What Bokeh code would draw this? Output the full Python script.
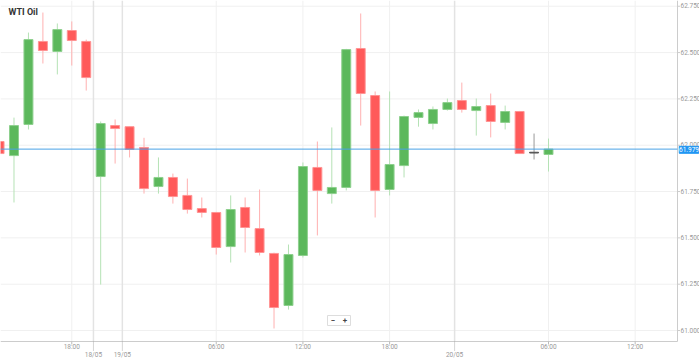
from bokeh.plotting import figure
from bokeh.models import Range1d, ColumnDataSource
from bokeh.core.properties import value
from bokeh.embed import file_html
from bokeh.resources import INLINE

# ---- data (hourly candles, index-based x) ----
opens = [62.020, 61.944, 62.112, 62.560, 62.506, 62.619, 62.560, 61.831, 62.106, 62.100,
         61.988, 61.777, 61.826, 61.729, 61.658, 61.637, 61.453, 61.664, 61.550, 61.416,
         61.135, 61.405, 61.880, 61.739, 61.772, 62.522, 62.268, 61.761, 61.890, 62.150,
         62.117, 62.193, 62.241, 62.187, 62.214, 62.123, 62.182, 61.960, 61.950]
highs = [62.030, 62.149, 62.608, 62.716, 62.657, 62.668, 62.570, 62.128, 62.139, 62.100,
         62.040, 61.934, 61.847, 61.820, 61.718, 61.640, 61.729, 61.718, 61.761, 61.420,
         61.464, 61.907, 62.020, 62.096, 62.520, 62.711, 62.290, 62.290, 62.160, 62.193,
         62.209, 62.252, 62.338, 62.252, 62.279, 62.214, 62.185, 62.063, 62.036]
lows = [61.945, 61.691, 62.085, 62.441, 62.382, 62.430, 62.295, 61.248, 61.901, 61.934,
        61.739, 61.739, 61.685, 61.631, 61.610, 61.410, 61.367, 61.421, 61.405, 61.011,
        61.113, 61.394, 61.513, 61.685, 61.756, 62.106, 61.610, 61.729, 61.826, 62.100,
        62.085, 62.187, 62.176, 62.052, 62.042, 62.085, 61.955, 61.923, 61.858]
closes = [61.955, 62.106, 62.570, 62.511, 62.624, 62.565, 62.365, 62.117, 62.090, 61.977,
          61.766, 61.826, 61.723, 61.653, 61.637, 61.448, 61.653, 61.556, 61.421, 61.124,
          61.410, 61.885, 61.756, 61.772, 62.516, 62.279, 61.756, 61.896, 62.155, 62.176,
          62.193, 62.230, 62.193, 62.209, 62.128, 62.182, 61.955, 61.960, 61.979]

time_ticks = [5, 15, 21, 27, 38, 44]
time_labels = ["18:00", "06:00", "12:00", "18:00", "06:00", "12:00"]
date_ticks = [6.5, 8.5, 31.5]
date_labels = ["18/05", "19/05", "20/05"]
price_ticks = [61.0, 61.25, 61.5, 61.75, 62.0, 62.25, 62.5, 62.75]
last_price = 61.979
title_text = "WTI Oil"

# ---- pixel geometry (canvas 699x358) ----
W, H = 699, 358
PX_X = 14.446          # pixels per candle
PX_Y = 185.3           # pixels per 1.0 price
X0 = 0.0655            # k at left canvas edge
Y_TOP = 62.781         # price at top canvas edge
XL, XR = X0, X0 + 677 / PX_X          # plot area (right axis line at px 677)
YB = Y_TOP - 341 / PX_Y               # bottom axis line at px 341
dx = lambda px: px / PX_X
dy = lambda px: px / PX_Y

GREEN, GREEN_L, GREEN_W = "#5cb85c", "#8ed08e", "#b5e2b5"
RED, RED_L, RED_W = "#ff5a5a", "#ff9494", "#ffb0b0"
GRAY, GRAY_W = "#555555", "#999999"
AX = "#cccccc"
TXT = "#999999"
FONT = value("Roboto")

xs = list(range(len(opens)))
body_fill, body_line, wick_col, tops, bots = [], [], [], [], []
for o, c in zip(opens, closes):
    if abs(c - o) < 0.001:
        body_fill.append(GRAY); body_line.append(GRAY); wick_col.append(GRAY_W)
    elif c > o:
        body_fill.append(GREEN); body_line.append(GREEN_L); wick_col.append(GREEN_W)
    else:
        body_fill.append(RED); body_line.append(RED_L); wick_col.append(RED_W)
    hi, lo = max(o, c), min(o, c)
    if hi - lo < 0.004:
        hi, lo = hi + 0.002, lo - 0.002
    tops.append(hi); bots.append(lo)

src = ColumnDataSource(dict(x=xs, o=opens, h=highs, l=lows, c=closes,
                            top=tops, bottom=bots, fill=body_fill,
                            line=body_line, wick=wick_col))

p = figure(width=W, height=H, output_backend="svg", toolbar_location=None,
           x_range=Range1d(X0, X0 + W / PX_X), y_range=Range1d(Y_TOP - H / PX_Y, Y_TOP),
           x_axis_location=None, y_axis_location=None,
           min_border=0, min_border_left=0, min_border_top=0,
           min_border_right=0, min_border_bottom=0)
p.outline_line_color = None
p.grid.visible = False
p.background_fill_color = "white"
p.border_fill_color = "white"

# horizontal grid
p.segment(x0=[XL] * len(price_ticks), x1=[XR] * len(price_ticks),
          y0=price_ticks, y1=price_ticks, line_color="#f0f0f0", line_width=1)
# vertical grid (times faint, dates stronger)
p.segment(x0=time_ticks, x1=time_ticks, y0=[YB] * len(time_ticks), y1=[Y_TOP] * len(time_ticks),
          line_color="#f0f0f0", line_width=1)
p.segment(x0=date_ticks, x1=date_ticks, y0=[YB] * len(date_ticks), y1=[Y_TOP] * len(date_ticks),
          line_color="#e3e3e3", line_width=1.5)

# axes lines
p.segment(x0=[XR], x1=[XR], y0=[YB], y1=[Y_TOP], line_color=AX, line_width=1)
p.segment(x0=[XL], x1=[XR], y0=[YB], y1=[YB], line_color=AX, line_width=1)

# y ticks + labels (right)
p.segment(x0=[XR] * len(price_ticks), x1=[XR + dx(2.5)] * len(price_ticks),
          y0=price_ticks, y1=price_ticks, line_color=AX)
p.text(x=[XR + dx(3)] * len(price_ticks), y=[t + dy(0.5) for t in price_ticks],
       text=[f"{t:.3f}" for t in price_ticks], text_font=FONT, text_font_size="6.5px",
       text_color=TXT, text_align="left", text_baseline="middle")

# x ticks + labels
p.segment(x0=time_ticks, x1=time_ticks, y0=[YB] * len(time_ticks),
          y1=[YB - dy(3)] * len(time_ticks), line_color="#bbbbbb")
p.text(x=time_ticks, y=[YB - dy(5.5)] * len(time_ticks), text=time_labels,
       text_font=FONT, text_font_size="6.5px", text_color=TXT,
       text_align="center", text_baseline="middle")
p.segment(x0=date_ticks, x1=date_ticks, y0=[YB] * len(date_ticks),
          y1=[YB - dy(9)] * len(date_ticks), line_color="#aaaaaa", line_dash="1 1")
p.text(x=date_ticks, y=[YB - dy(13)] * len(date_ticks), text=date_labels,
       text_font=FONT, text_font_size="6.5px", text_color=TXT,
       text_align="center", text_baseline="middle")

# candles
p.segment(x0="x", y0="h", x1="x", y1="l", source=src, line_color="wick", line_width=1)
p.vbar(x="x", top="top", bottom="bottom", width=0.62, source=src,
       fill_color="fill", line_color="line", line_width=1)

# current price line + label
p.segment(x0=[XL], x1=[XR], y0=[last_price], y1=[last_price], line_color="#4aa3e6", line_width=1)
p.rect(x=[XR + dx(11.5)], y=[last_price - dy(0.7)], width=dx(19.5), height=dy(7),
       fill_color="#2196f3", line_color="#2196f3")
p.text(x=[XR + dx(11.5)], y=[last_price - dy(0.7)], text=[f"{last_price:.3f}"], text_font=FONT,
       text_font_size="6.5px", text_color="white", text_align="center", text_baseline="middle")

# title
p.text(x=[XL + dx(8)], y=[Y_TOP - dy(11)], text=[title_text], text_font=FONT,
       text_font_style="bold", text_font_size="9px", text_color="#333333",
       text_baseline="middle")

# zoom buttons
p.rect(x=[XL + dx(338.5)], y=[Y_TOP - dy(320)], width=dx(23), height=dy(10),
       fill_color="white", line_color="#dddddd")
p.text(x=[XL + dx(332.5), XL + dx(344.5)], y=[Y_TOP - dy(320)] * 2, text=["\u2212", "+"],
       text_font=FONT, text_font_style="bold", text_font_size="8px", text_color="#444444",
       text_align="center", text_baseline="middle")

open("out.html", "w").write(file_html(p, INLINE))
